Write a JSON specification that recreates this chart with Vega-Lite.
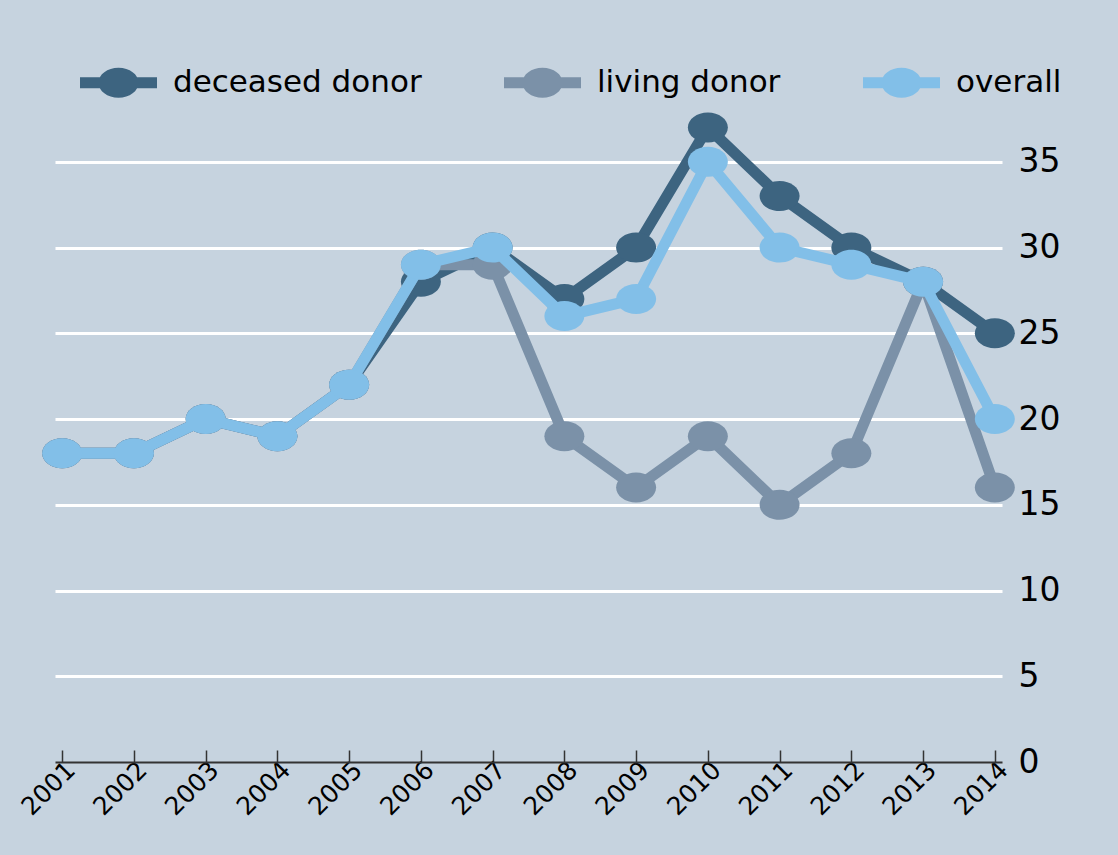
{
  "$schema": "https://vega.github.io/schema/vega-lite/v6.json",
  "width": 947,
  "height": 686,
  "autosize": {"type": "none"},
  "padding": {"left": 55, "top": 76, "right": 116, "bottom": 93},
  "background": "#c6d3df",
  "config": {"view": {"stroke": null}, "font": "DejaVu Sans"},
  "data": {
    "values": [
      {"year": 2001, "series": "deceased donor", "value": 18},
      {"year": 2002, "series": "deceased donor", "value": 18},
      {"year": 2003, "series": "deceased donor", "value": 20},
      {"year": 2004, "series": "deceased donor", "value": 19},
      {"year": 2005, "series": "deceased donor", "value": 22},
      {"year": 2006, "series": "deceased donor", "value": 28},
      {"year": 2007, "series": "deceased donor", "value": 30},
      {"year": 2008, "series": "deceased donor", "value": 27},
      {"year": 2009, "series": "deceased donor", "value": 30},
      {"year": 2010, "series": "deceased donor", "value": 37},
      {"year": 2011, "series": "deceased donor", "value": 33},
      {"year": 2012, "series": "deceased donor", "value": 30},
      {"year": 2013, "series": "deceased donor", "value": 28},
      {"year": 2014, "series": "deceased donor", "value": 25},
      {"year": 2001, "series": "living donor", "value": 18},
      {"year": 2002, "series": "living donor", "value": 18},
      {"year": 2003, "series": "living donor", "value": 20},
      {"year": 2004, "series": "living donor", "value": 19},
      {"year": 2005, "series": "living donor", "value": 22},
      {"year": 2006, "series": "living donor", "value": 29},
      {"year": 2007, "series": "living donor", "value": 29},
      {"year": 2008, "series": "living donor", "value": 19},
      {"year": 2009, "series": "living donor", "value": 16},
      {"year": 2010, "series": "living donor", "value": 19},
      {"year": 2011, "series": "living donor", "value": 15},
      {"year": 2012, "series": "living donor", "value": 18},
      {"year": 2013, "series": "living donor", "value": 28},
      {"year": 2014, "series": "living donor", "value": 16},
      {"year": 2001, "series": "overall", "value": 18},
      {"year": 2002, "series": "overall", "value": 18},
      {"year": 2003, "series": "overall", "value": 20},
      {"year": 2004, "series": "overall", "value": 19},
      {"year": 2005, "series": "overall", "value": 22},
      {"year": 2006, "series": "overall", "value": 29},
      {"year": 2007, "series": "overall", "value": 30},
      {"year": 2008, "series": "overall", "value": 26},
      {"year": 2009, "series": "overall", "value": 27},
      {"year": 2010, "series": "overall", "value": 35},
      {"year": 2011, "series": "overall", "value": 30},
      {"year": 2012, "series": "overall", "value": 29},
      {"year": 2013, "series": "overall", "value": 28},
      {"year": 2014, "series": "overall", "value": 20}
    ]
  },
  "encoding": {
    "x": {
      "field": "year", "type": "ordinal",
      "scale": {"type": "point", "padding": 0.1},
      "axis": {"title": null, "labelAngle": -45, "labelFontSize": 25, "labelColor": "black", "tickSize": -12, "tickColor": "#333333", "tickWidth": 1.5, "domainColor": "#333333", "domainWidth": 2, "grid": false, "labelPadding": 7}
    },
    "y": {
      "field": "value", "type": "quantitative",
      "scale": {"domain": [0, 40], "nice": false},
      "axis": {"orient": "right", "title": null, "values": [0, 5, 10, 15, 20, 25, 30, 35], "domain": false, "ticks": false, "labelFontSize": 33, "labelColor": "black", "labelPadding": 16, "labelBaseline": "middle", "gridColor": "white", "gridWidth": 3, "gridOpacity": {"condition": {"test": "datum.value === 0", "value": 0}, "value": 1}}
    },
    "color": {
      "field": "series", "type": "nominal",
      "scale": {"domain": ["deceased donor", "living donor", "overall"], "range": ["#3d6480", "#7b91a8", "#82bfe8"]},
      "legend": {
        "title": null, "orient": "none", "direction": "horizontal", "legendX": 25, "legendY": -32,
        "labelFontSize": 31, "labelColor": "black", "labelFont": "DejaVu Sans", "labelOffset": 16, "labelLimit": 500, "columnPadding": 82,
        "symbolSize": 5929, "symbolStrokeWidth": 0, "symbolOpacity": 1,
        "symbolType": "M-1,-0.143 L1,-0.143 L1,0.143 L-1,0.143 Z M-0.52,0 A0.52,0.39 0 1,1 0.52,0 A0.52,0.39 0 1,1 -0.52,0 Z",
        "encode": {"symbols": {"update": {"fill": {"scale": "color", "field": "value"}, "strokeWidth": {"value": 0}, "opacity": {"value": 1}}}}
      }
    }
  },
  "layer": [
    {"transform": [{"filter": "datum.series === 'deceased donor'"}], "mark": {"type": "line", "strokeWidth": 11}},
    {"transform": [{"filter": "datum.series === 'deceased donor'"}], "mark": {"type": "point", "filled": true, "opacity": 1, "shape": "M-1,0 A1,0.75 0 1,1 1,0 A1,0.75 0 1,1 -1,0 Z", "size": 1600}},
    {"transform": [{"filter": "datum.series === 'living donor'"}], "mark": {"type": "line", "strokeWidth": 11}},
    {"transform": [{"filter": "datum.series === 'living donor'"}], "mark": {"type": "point", "filled": true, "opacity": 1, "shape": "M-1,0 A1,0.75 0 1,1 1,0 A1,0.75 0 1,1 -1,0 Z", "size": 1600}},
    {"transform": [{"filter": "datum.series === 'overall'"}], "mark": {"type": "line", "strokeWidth": 11}},
    {"transform": [{"filter": "datum.series === 'overall'"}], "mark": {"type": "point", "filled": true, "opacity": 1, "shape": "M-1,0 A1,0.75 0 1,1 1,0 A1,0.75 0 1,1 -1,0 Z", "size": 1600}}
  ]
}
